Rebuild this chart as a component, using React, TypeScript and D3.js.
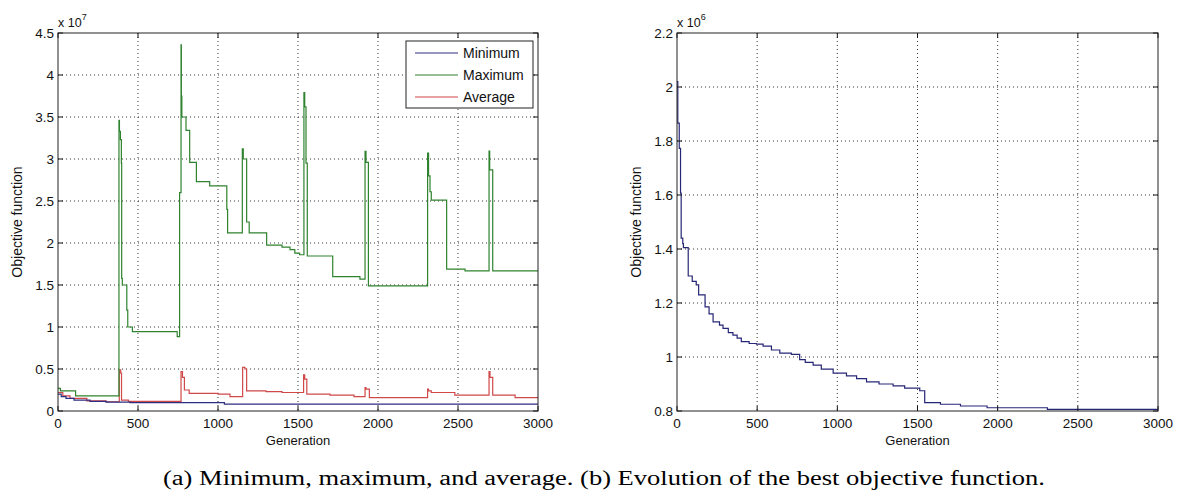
import React from 'react';
import * as d3 from 'd3';

// ---- data (values in units of the exponent label) ----
const generationTicks = [0, 500, 1000, 1500, 2000, 2500, 3000];

const leftYTicks = [0, 0.5, 1, 1.5, 2, 2.5, 3, 3.5, 4, 4.5];
const rightYTicks = [0.8, 1, 1.2, 1.4, 1.6, 1.8, 2, 2.2];

const seriesNames = ['Minimum', 'Maximum', 'Average'];
const seriesColors = ['#2e2e82', '#2f832f', '#d04848'];

const minimumGen = [0, 20, 50, 100, 200, 300, 450, 1040, 3000];
const minimumVal = [0.2, 0.17, 0.15, 0.13, 0.115, 0.105, 0.1, 0.083, 0.083];

const maximumGen = [0, 15, 110, 381, 384, 390, 396, 398, 402, 430, 436, 465, 745, 760, 769, 771, 774, 800, 823, 865, 948, 1055, 1060,
  1152, 1158, 1179, 1195, 1304, 1400, 1450, 1480, 1510, 1537, 1542, 1550, 1558, 1717, 1887, 1919, 1925, 1940, 2310, 2316, 2325, 2333,
  2429, 2544, 2694, 2698, 2717, 3000];
const maximumVal = [0.27, 0.24, 0.18, 3.46, 3.33, 3.23, 2.95, 1.58, 1.5, 1.2, 1.0, 0.945, 0.885, 2.6, 4.36, 3.75, 3.5, 3.34, 2.96, 2.73, 2.68, 2.4, 2.12,
  3.12, 3.0, 2.25, 2.12, 1.975, 1.95, 1.92, 1.88, 1.86, 3.79, 3.62, 2.95, 1.845, 1.6, 1.57, 3.09, 2.96, 1.49, 3.07, 2.8, 2.61, 2.51,
  1.69, 1.667, 3.095, 2.87, 1.667, 1.667];

const averageGen = [0, 30, 75, 180, 300, 383, 392, 397, 440, 769, 778, 790, 820, 1000, 1075, 1154, 1168, 1179, 1300, 1400, 1535, 1542, 1555,
  1700, 1850, 1919, 1925, 1946, 2310, 2316, 2333, 2480, 2694, 2700, 2717, 2857, 3000];
const averageVal = [0.22, 0.18, 0.15, 0.12, 0.11, 0.49, 0.45, 0.13, 0.115, 0.47, 0.4, 0.25, 0.21, 0.2, 0.17, 0.52, 0.5, 0.24, 0.23, 0.22, 0.43, 0.38, 0.2,
  0.19, 0.17, 0.28, 0.26, 0.16, 0.26, 0.24, 0.22, 0.19, 0.47, 0.4, 0.19, 0.16, 0.16];

const bestGen = [0, 5, 14, 22, 26, 36, 40, 70, 95, 120, 135, 175, 200, 225, 265, 287, 320, 349, 375, 401, 450, 495, 537, 589, 641, 713, 765,
  800, 849, 900, 974, 1057, 1120, 1182, 1260, 1348, 1420, 1514, 1545, 1643, 1768, 1934, 2310, 3000];
const bestVal = [2.02, 1.866, 1.773, 1.607, 1.44, 1.42, 1.405, 1.3, 1.28, 1.267, 1.23, 1.186, 1.16, 1.13, 1.118, 1.106, 1.09, 1.081, 1.07, 1.057,
  1.05, 1.048, 1.04, 1.026, 1.014, 1.01, 0.99, 0.98, 0.97, 0.955, 0.94, 0.93, 0.92, 0.908, 0.9, 0.893, 0.885, 0.875, 0.831, 0.825, 0.8185,
  0.812, 0.806, 0.806];

const captionText = '(a) Minimum, maximum, and average. (b) Evolution of the best objective function.';

const sans = 'Arial, "Liberation Sans", Helvetica, sans-serif';
const tickSize = 5;

type Series = { gen: number[]; val: number[]; color: string };

const Panel = ({ id, left, right, top, bottom, yDomain, yTicks, exponent, series, legend }: {
  id: string; left: number; right: number; top: number; bottom: number;
  yDomain: [number, number]; yTicks: number[]; exponent: string; series: Series[]; legend?: boolean;
}) => {
  const x = d3.scaleLinear().domain([0, 3000]).range([left, right]);
  const y = d3.scaleLinear().domain(yDomain).range([bottom, top]);
  const line = d3.line<[number, number]>()
    .x(d => x(d[0]))
    .y(d => y(d[1]))
    .curve(d3.curveStepAfter);
  const fmt = (v: number) => String(+v.toFixed(2));

  return (
    <g>
      <defs>
        <clipPath id={id}>
          <rect x={left} y={top} width={right - left} height={bottom - top} />
        </clipPath>
      </defs>
      <rect x={left} y={top} width={right - left} height={bottom - top} fill="#fff" />
      {/* grid */}
      {generationTicks.slice(1, -1).map(t => (
        <line key={'gx' + t} x1={x(t)} x2={x(t)} y1={top} y2={bottom} stroke="#333" strokeWidth={1} strokeDasharray="1,3" />
      ))}
      {yTicks.slice(1, -1).map(t => (
        <line key={'gy' + t} x1={left} x2={right} y1={y(t)} y2={y(t)} stroke="#333" strokeWidth={1} strokeDasharray="1,3" />
      ))}
      {/* data */}
      <g clipPath={`url(#${id})`}>
        {series.map((s, i) => (
          <path key={i} d={line(s.gen.map((g, j) => [g, s.val[j]] as [number, number])) || ''}
            fill="none" stroke={s.color} strokeWidth={1.2} />
        ))}
      </g>
      {/* ticks, inward on all four sides */}
      {generationTicks.map(t => (
        <g key={'tx' + t}>
          <line x1={x(t)} x2={x(t)} y1={bottom} y2={bottom - tickSize} stroke="#111" />
          <line x1={x(t)} x2={x(t)} y1={top} y2={top + tickSize} stroke="#111" />
          <text x={x(t)} y={bottom + 17} textAnchor="middle" fontFamily={sans} fontSize={13.5} fill="#111">{t}</text>
        </g>
      ))}
      {yTicks.map(t => (
        <g key={'ty' + t}>
          <line x1={left} x2={left + tickSize} y1={y(t)} y2={y(t)} stroke="#111" />
          <line x1={right} x2={right - tickSize} y1={y(t)} y2={y(t)} stroke="#111" />
          <text x={left - 4} y={y(t)} dy="0.36em" textAnchor="end" fontFamily={sans} fontSize={13.5} fill="#111">{fmt(t)}</text>
        </g>
      ))}
      <rect x={left} y={top} width={right - left} height={bottom - top} fill="none" stroke="#222" strokeWidth={1} />
      {/* exponent */}
      <text x={left} y={top - 6} fontFamily={sans} fontSize={12.5} fill="#111">
        x 10<tspan dy={-7} fontSize={9}>{exponent}</tspan>
      </text>
      {/* axis labels */}
      <text x={(left + right) / 2} y={bottom + 34} textAnchor="middle" fontFamily={sans} fontSize={13} fill="#111">Generation</text>
      <text transform={`translate(${left - 36},${(top + bottom) / 2}) rotate(-90)`} textAnchor="middle" fontFamily={sans} fontSize={14} fill="#111">
        Objective function
      </text>
      {legend && (
        <g>
          <rect x={406} y={41} width={127} height={67} fill="#fff" stroke="#222" strokeWidth={1} />
          {seriesNames.map((n, i) => (
            <g key={n}>
              <line x1={415} x2={458} y1={53 + i * 22} y2={53 + i * 22} stroke={seriesColors[i]} strokeWidth={1.2} />
              <text x={463} y={53 + i * 22} dy="0.36em" fontFamily={sans} fontSize={14} fill="#111">{n}</text>
            </g>
          ))}
        </g>
      )}
    </g>
  );
};

export default function App() {
  return (
    <svg width={1177} height={493} style={{ position: 'absolute', left: 0, top: 0, background: '#fff' }}>
      <rect width={1177} height={493} fill="#fff" />
      <Panel id="clipA" left={58} right={538} top={33} bottom={411} yDomain={[0, 4.5]} yTicks={leftYTicks} exponent="7" legend
        series={[
          { gen: averageGen, val: averageVal, color: seriesColors[2] },
          { gen: maximumGen, val: maximumVal, color: seriesColors[1] },
          { gen: minimumGen, val: minimumVal, color: seriesColors[0] },
        ]} />
      <Panel id="clipB" left={677} right={1158} top={33} bottom={411} yDomain={[0.8, 2.2]} yTicks={rightYTicks} exponent="6"
        series={[{ gen: bestGen, val: bestVal, color: '#262676' }]} />
      <text x={604} y={485} textAnchor="middle" style={{ fontFamily: "'Liberation Serif'" }} fontSize={20}
        textLength={882} lengthAdjust="spacingAndGlyphs" fill="#000">{captionText}</text>
    </svg>
  );
}
